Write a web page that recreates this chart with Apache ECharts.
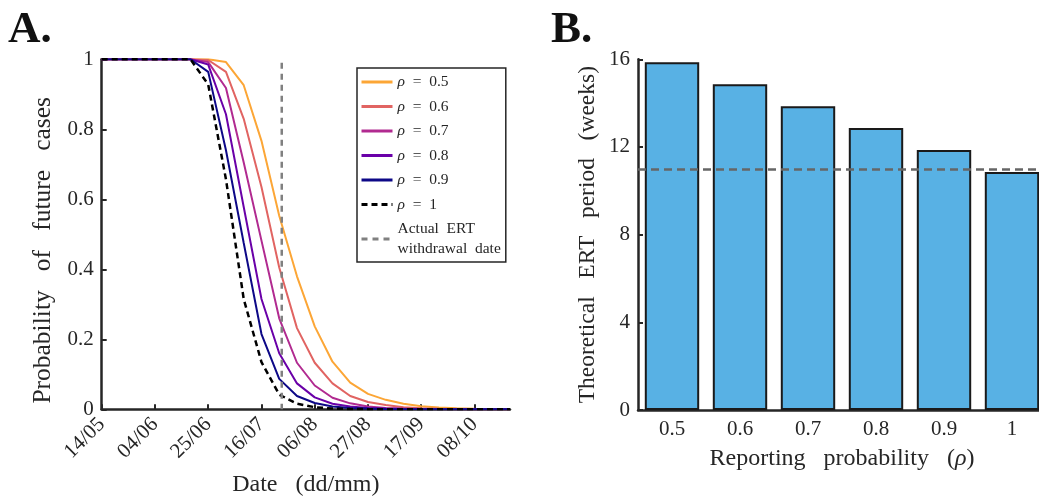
<!DOCTYPE html>
<html><head><meta charset="utf-8">
<script src="https://cdn.jsdelivr.net/npm/echarts@6/dist/echarts.min.js"></script>
<style>html,body{margin:0;padding:0;background:#fff}#c{width:1039px;height:496px}</style>
</head><body><div id="c"></div>
<script>
// ---- Panel A data (weekly, days since 14/05) ----
const weekDays = [0,7,14,21,28,35,42,49,56,63,70,77,84,91,98,105,112,119,126,133,140,147,154,161];
const dateTickLabels = ['14/05','04/06','25/06','16/07','06/08','27/08','17/09','08/10'];
const rho05 = [1,1,1,1,1,1,1.0,0.992,0.926,0.767,0.553,0.380,0.237,0.136,0.076,0.044,0.027,0.016,0.009,0.005,0.003,0.0015,0.0007,0.0003];
const rho06 = [1,1,1,1,1,1,0.998,0.964,0.830,0.635,0.405,0.232,0.133,0.074,0.038,0.021,0.012,0.006,0.003,0.0015,0.0007,0.0003,0.0001,0];
const rho07 = [1,1,1,1,1,1,0.992,0.918,0.705,0.482,0.260,0.133,0.068,0.033,0.017,0.008,0.004,0.002,0.001,0.0005,0.0002,0.0001,0,0];
const rho08 = [1,1,1,1,1,1,0.985,0.843,0.578,0.315,0.160,0.074,0.034,0.016,0.008,0.004,0.002,0.001,0.0005,0.0002,0.0001,0,0,0];
const rho09 = [1,1,1,1,1,1,0.964,0.740,0.475,0.215,0.087,0.038,0.018,0.008,0.004,0.002,0.001,0.0005,0.0002,0.0001,0,0,0,0];
const rho10 = [1,1,1,1,1,1,0.928,0.657,0.315,0.135,0.042,0.016,0.006,0.002,0.001,0.0004,0.0001,0,0,0,0,0,0,0];
const ertWithdrawalDay = 71;
const seriesNames = ['ρ  =  0.5','ρ  =  0.6','ρ  =  0.7','ρ  =  0.8','ρ  =  0.9','ρ  =  1'];
const withdrawalName = 'Actual  ERT\nwithdrawal  date';

// ---- Panel B data ----
const rhoCategories = ['0.5','0.6','0.7','0.8','0.9','1'];
const ertWeeks = [15.86,14.86,13.86,12.86,11.86,10.86];
const actualErtWeeks = 11;

const FONT = 'Liberation Serif';
const INK = '#262626';
const lineColors = ['#FCA636','#E16462','#B12A90','#6A00A8','#0D0887','#000000'];
const curves = [rho05,rho06,rho07,rho08,rho09,rho10];

const series = curves.map((arr, k) => ({
  name: seriesNames[k], type: 'line', xAxisIndex: 0, yAxisIndex: 0,
  data: weekDays.map((d, i) => [d, arr[i]]),
  symbol: 'none', showSymbol: false, silent: true, animation: false,
  lineStyle: { color: lineColors[k], width: k === 5 ? 2.5 : 2, type: k === 5 ? [6, 4] : 'solid' },
  itemStyle: { color: lineColors[k] }, z: 2 + k
}));
series.push({
  name: withdrawalName, type: 'line', xAxisIndex: 0, yAxisIndex: 0,
  data: [[ertWithdrawalDay, 0.99], [ertWithdrawalDay, 0]],
  symbol: 'none', silent: true, animation: false,
  lineStyle: { color: '#808080', width: 2.5, type: [6, 5] },
  itemStyle: { color: '#808080' }, z: 10
});
series.push({
  name: 'ERT', type: 'bar', xAxisIndex: 1, yAxisIndex: 1,
  data: ertWeeks, barWidth: '80%', animation: false, silent: true,
  itemStyle: { color: '#58B1E4', borderColor: '#1a1a1a', borderWidth: 2 },
  markLine: {
    silent: true, symbol: 'none', animation: false,
    label: { show: false },
    lineStyle: { color: '#666666', width: 2.5, type: [8, 5] },
    data: [{ yAxis: actualErtWeeks }]
  }
});

const labelStyle = { fontFamily: FONT, fontSize: 21, color: INK };
const nameStyle = { fontFamily: FONT, fontSize: 24, color: INK };

const option = {
  backgroundColor: '#fff',
  animation: false,
  grid: [
    { left: 101.7, top: 59.3, right: 529, bottom: 86.7, outerBoundsMode: 'none', containLabel: false },
    { left: 638, top: 59.3, width: 408, bottom: 86, outerBoundsMode: 'none', containLabel: false }
  ],
  legend: {
    data: seriesNames.concat([withdrawalName]),
    orient: 'vertical', left: 357, top: 68,
    padding: [4, 5, 3, 3],
    itemWidth: 31, itemHeight: 14, itemGap: 4.5,
    borderColor: INK, borderWidth: 1.5, backgroundColor: '#fff',
    selectedMode: false,
    itemStyle: { opacity: 0 },
    lineStyle: { width: 3 },
    formatter: n => n.replace('ρ', '{i|ρ}'),
    textStyle: {
      fontFamily: FONT, fontSize: 15.5, color: INK, lineHeight: 20,
      rich: { i: { fontFamily: FONT, fontSize: 15.5, fontStyle: 'italic', color: INK, lineHeight: 20 } }
    }
  },
  xAxis: [
    {
      gridIndex: 0, type: 'value', min: 0, max: 161, interval: 21,
      splitLine: { show: false },
      axisLine: { lineStyle: { color: INK, width: 2.5 } },
      axisTick: { inside: true, length: 5, lineStyle: { color: INK, width: 2 } },
      axisLabel: Object.assign({}, labelStyle, {
        rotate: 45, margin: 12, showMaxLabel: false,
        formatter: v => (v % 21 === 0 ? (dateTickLabels[v / 21] || '') : '')
      }),
      name: 'Date   (dd/mm)', nameLocation: 'middle', nameGap: 63,
      nameTextStyle: nameStyle
    },
    {
      gridIndex: 1, type: 'category', data: rhoCategories,
      axisLine: { lineStyle: { color: INK, width: 2.5 } },
      axisTick: { inside: true, length: 5, alignWithLabel: true, lineStyle: { color: INK, width: 2 } },
      axisLabel: Object.assign({}, labelStyle, { margin: 9 }),
      name: 'Reporting   probability   ({i|ρ})', nameLocation: 'middle', nameGap: 37,
      nameTextStyle: Object.assign({}, nameStyle, { rich: { i: Object.assign({}, nameStyle, { fontStyle: 'italic' }) } })
    }
  ],
  yAxis: [
    {
      gridIndex: 0, type: 'value', min: 0, max: 1, interval: 0.2,
      splitLine: { show: false },
      axisLine: { show: true, lineStyle: { color: INK, width: 2.5 } },
      axisTick: { show: true, inside: true, length: 5, lineStyle: { color: INK, width: 2 } },
      axisLabel: Object.assign({}, labelStyle, { margin: 8, formatter: v => String(Math.round(v * 10) / 10) }),
      name: 'Probability   of   future   cases', nameLocation: 'middle', nameGap: 45,
      nameTextStyle: Object.assign({}, nameStyle, { fontSize: 25.5, padding: [0, 32, 0, 0] })
    },
    {
      gridIndex: 1, type: 'value', min: 0, max: 16, interval: 4,
      splitLine: { show: false },
      axisLine: { show: true, lineStyle: { color: INK, width: 2.5 } },
      axisTick: { show: true, inside: true, length: 5, lineStyle: { color: INK, width: 2 } },
      axisLabel: Object.assign({}, labelStyle, { margin: 8 }),
      name: 'Theoretical   ERT   period   (weeks)', nameLocation: 'middle', nameGap: 38,
      nameTextStyle: Object.assign({}, nameStyle, { fontSize: 23.5 })
    }
  ],
  graphic: [
    { type: 'text', left: 8, top: 8, style: { text: 'A.', fontFamily: FONT, fontSize: 45, fontWeight: 'bold', fill: '#111' } },
    { type: 'text', left: 551, top: 8, style: { text: 'B.', fontFamily: FONT, fontSize: 45, fontWeight: 'bold', fill: '#111' } }
  ],
  series: series
};

const chart = echarts.init(document.getElementById('c'), null, { renderer: 'canvas' });
chart.setOption(option);
</script>
</body></html>
